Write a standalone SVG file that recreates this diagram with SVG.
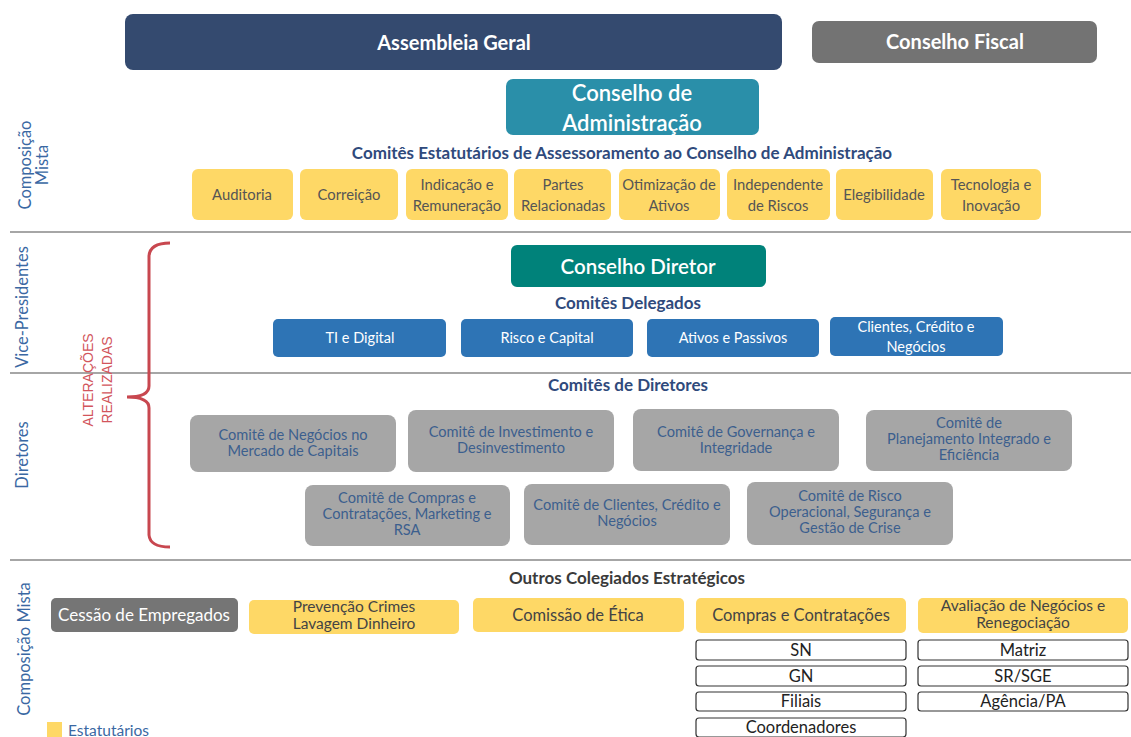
<svg xmlns="http://www.w3.org/2000/svg" width="1131" height="737" viewBox="0 0 1131 737">
<style>
text{font-family:Lato,"Noto Sans","Liberation Sans",sans-serif}
.sep{stroke:#a6a6a6;stroke-width:2}
.side{font-size:16.5px;fill:#3a68a3;text-anchor:middle}
.alt{font-family:"Liberation Sans",Arial,sans-serif;font-size:14px;fill:#d2555c;text-anchor:middle}
.head{font-size:17px;font-weight:bold;fill:#2f4a7c;text-anchor:middle}
.yel{fill:#fed866}
.ytx{font-size:14.8px;fill:#555;text-anchor:middle}
.blu{fill:#2e74b5}
.btx{font-size:14.5px;fill:#fff;text-anchor:middle}
.gry{fill:#a6a6a6}
.gtx{font-size:14.6px;fill:#3c5f8e;text-anchor:middle}
.big{font-size:16.5px;fill:#444;text-anchor:middle}
.two{font-size:15.5px;fill:#444;text-anchor:middle}
.box{fill:#fff;stroke:#333;stroke-width:1.2}
.otx{font-size:16.5px;fill:#222;text-anchor:middle}
</style>
<rect width="1131" height="737" fill="#fff"/>

<g id="separators">
<line class="sep" x1="10" y1="232" x2="1131" y2="232"/>
<line class="sep" x1="10" y1="373" x2="1131" y2="373"/>
<line class="sep" x1="10" y1="560" x2="1131" y2="560"/>
</g>

<g id="side-labels">
<text class="side" transform="translate(31,165) rotate(-90)">Composição</text>
<text class="side" transform="translate(48,165) rotate(-90)">Mista</text>
<text class="side" transform="translate(28,307) rotate(-90)">Vice-Presidentes</text>
<text class="side" transform="translate(28,455) rotate(-90)">Diretores</text>
<text class="side" transform="translate(30,649) rotate(-90)">Composição Mista</text>
</g>

<g id="alteracoes">
<text class="alt" transform="translate(93,380) rotate(-90)">ALTERAÇÕES</text>
<text class="alt" transform="translate(112,380) rotate(-90)">REALIZADAS</text>
<path d="M170,243 Q150,243 149,256 L149,386 Q149,397 127,397 Q149,397 149,408 L149,535 Q150,547 170,547" fill="none" stroke="#c8474f" stroke-width="3"/>
</g>

<g id="assembleia-geral">
<rect x="125" y="14" width="657" height="56" rx="8" fill="#344a6f"/>
<text x="454" y="50" font-size="20" font-weight="bold" fill="#fff" text-anchor="middle">Assembleia Geral</text>
</g>
<g id="conselho-fiscal">
<rect x="812" y="21" width="285" height="42" rx="7" fill="#737373"/>
<text x="955" y="49" font-size="20" font-weight="bold" fill="#fff" text-anchor="middle">Conselho Fiscal</text>
</g>
<g id="conselho-administracao">
<rect x="506" y="79" width="253" height="56" rx="7" fill="#2a8fa9"/>
<text x="632" y="101" font-size="22" font-weight="600" fill="#fff" text-anchor="middle">Conselho de</text>
<text x="632" y="131" font-size="22" font-weight="600" fill="#fff" text-anchor="middle">Administração</text>
</g>
<text class="head" x="622" y="159">Comitês Estatutários de Assessoramento ao Conselho de Administração</text>

<g id="comite-auditoria"><rect class="yel" x="192" y="169" width="101" height="51" rx="6"/><text class="ytx" x="242" y="200">Auditoria</text></g>
<g id="comite-correicao"><rect class="yel" x="300" y="169" width="98" height="51" rx="6"/><text class="ytx" x="349" y="200">Correição</text></g>
<g id="comite-indicacao"><rect class="yel" x="406" y="169" width="102" height="51" rx="6"/><text class="ytx" x="457" y="190">Indicação e</text><text class="ytx" x="457" y="211">Remuneração</text></g>
<g id="comite-partes"><rect class="yel" x="514" y="169" width="97" height="51" rx="6"/><text class="ytx" x="563" y="190">Partes</text><text class="ytx" x="563" y="211">Relacionadas</text></g>
<g id="comite-otimizacao"><rect class="yel" x="619" y="169" width="101" height="51" rx="6"/><text class="ytx" x="669" y="190">Otimização de</text><text class="ytx" x="669" y="211">Ativos</text></g>
<g id="comite-independente"><rect class="yel" x="727" y="169" width="103" height="51" rx="6"/><text class="ytx" x="778" y="190">Independente</text><text class="ytx" x="778" y="211">de Riscos</text></g>
<g id="comite-elegibilidade"><rect class="yel" x="836" y="169" width="97" height="51" rx="6"/><text class="ytx" x="884" y="200">Elegibilidade</text></g>
<g id="comite-tecnologia"><rect class="yel" x="941" y="169" width="100" height="51" rx="6"/><text class="ytx" x="991" y="190">Tecnologia e</text><text class="ytx" x="991" y="211">Inovação</text></g>

<g id="conselho-diretor">
<rect x="511" y="245" width="255" height="42" rx="6" fill="#00827a"/>
<text x="638" y="274" font-size="20.5" font-weight="600" fill="#fff" text-anchor="middle">Conselho Diretor</text>
</g>
<text class="head" x="628" y="309">Comitês Delegados</text>

<g id="delegado-ti"><rect class="blu" x="273" y="319" width="173" height="38" rx="5"/><text class="btx" x="360" y="343">TI e Digital</text></g>
<g id="delegado-risco"><rect class="blu" x="461" y="319" width="172" height="38" rx="5"/><text class="btx" x="547" y="343">Risco e Capital</text></g>
<g id="delegado-ativos"><rect class="blu" x="647" y="319" width="172" height="38" rx="5"/><text class="btx" x="733" y="343">Ativos e Passivos</text></g>
<g id="delegado-clientes"><rect class="blu" x="830" y="317" width="173" height="39" rx="5"/><text class="btx" x="916" y="332">Clientes, Crédito e</text><text class="btx" x="916" y="352">Negócios</text></g>

<text class="head" x="628" y="391">Comitês de Diretores</text>

<g id="diretores-negocios"><rect class="gry" x="190" y="415" width="206" height="57" rx="8"/><text class="gtx" x="293" y="440">Comitê de Negócios no</text><text class="gtx" x="293" y="456">Mercado de Capitais</text></g>
<g id="diretores-investimento"><rect class="gry" x="408" y="410" width="206" height="62" rx="8"/><text class="gtx" x="511" y="437">Comitê de Investimento e</text><text class="gtx" x="511" y="453">Desinvestimento</text></g>
<g id="diretores-governanca"><rect class="gry" x="633" y="409" width="206" height="62" rx="8"/><text class="gtx" x="736" y="437">Comitê de Governança e</text><text class="gtx" x="736" y="453">Integridade</text></g>
<g id="diretores-planejamento"><rect class="gry" x="866" y="410" width="206" height="61" rx="8"/><text class="gtx" x="969" y="428">Comitê de</text><text class="gtx" x="969" y="444">Planejamento Integrado e</text><text class="gtx" x="969" y="460">Eficiência</text></g>
<g id="diretores-compras"><rect class="gry" x="305" y="485" width="205" height="61" rx="8"/><text class="gtx" x="407" y="503">Comitê de Compras e</text><text class="gtx" x="407" y="519">Contratações, Marketing e</text><text class="gtx" x="407" y="535">RSA</text></g>
<g id="diretores-clientes"><rect class="gry" x="524" y="484" width="206" height="61" rx="8"/><text class="gtx" x="627" y="510">Comitê de Clientes, Crédito e</text><text class="gtx" x="627" y="526">Negócios</text></g>
<g id="diretores-risco"><rect class="gry" x="747" y="482" width="206" height="63" rx="8"/><text class="gtx" x="850" y="501">Comitê de Risco</text><text class="gtx" x="850" y="517">Operacional, Segurança e</text><text class="gtx" x="850" y="533">Gestão de Crise</text></g>

<text x="627" y="584" font-size="17" font-weight="bold" fill="#3a3a3a" text-anchor="middle">Outros Colegiados Estratégicos</text>

<g id="cessao"><rect x="51" y="598" width="187" height="34" rx="5" fill="#757575"/><text x="144" y="621" font-size="17" fill="#fff" text-anchor="middle">Cessão de Empregados</text></g>
<g id="prevencao"><rect class="yel" x="249" y="600" width="210" height="34" rx="5"/><text class="two" x="354" y="612">Prevenção Crimes</text><text class="two" x="354" y="629">Lavagem Dinheiro</text></g>
<g id="etica"><rect class="yel" x="473" y="598" width="211" height="34" rx="5"/><text class="big" x="578" y="621" font-size="17">Comissão de Ética</text></g>
<g id="compras"><rect class="yel" x="696" y="598" width="210" height="35" rx="5"/><text class="big" x="801" y="621" font-size="17">Compras e Contratações</text></g>
<g id="avaliacao"><rect class="yel" x="918" y="598" width="210" height="35" rx="5"/><text class="two" x="1023" y="611">Avaliação de Negócios e</text><text class="two" x="1023" y="628">Renegociação</text></g>

<g id="compras-sn"><rect class="box" x="696" y="640" width="210" height="20" rx="3"/><text class="otx" x="801" y="656">SN</text></g>
<g id="compras-gn"><rect class="box" x="696" y="666" width="210" height="20" rx="3"/><text class="otx" x="801" y="682">GN</text></g>
<g id="compras-filiais"><rect class="box" x="696" y="692" width="210" height="19" rx="3"/><text class="otx" x="801" y="707">Filiais</text></g>
<g id="compras-coordenadores"><rect class="box" x="696" y="718" width="210" height="19" rx="3"/><text class="otx" x="801" y="733">Coordenadores</text></g>
<g id="avaliacao-matriz"><rect class="box" x="918" y="640" width="210" height="20" rx="3"/><text class="otx" x="1023" y="656">Matriz</text></g>
<g id="avaliacao-sr"><rect class="box" x="918" y="666" width="210" height="20" rx="3"/><text class="otx" x="1023" y="682">SR/SGE</text></g>
<g id="avaliacao-agencia"><rect class="box" x="918" y="692" width="210" height="19" rx="3"/><text class="otx" x="1023" y="707">Agência/PA</text></g>

<g id="legenda">
<rect x="47" y="722" width="15" height="15" fill="#fed866"/>
<text x="68" y="736" font-size="15.5" fill="#3a68a3">Estatutários</text>
</g>
</svg>
